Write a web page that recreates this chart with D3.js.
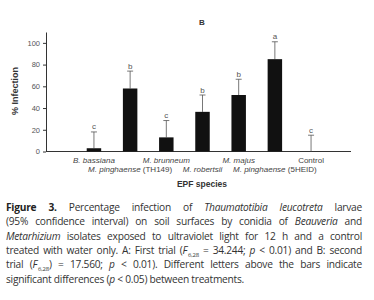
<!DOCTYPE html>
<html>
<head>
<meta charset="utf-8">
<script src="https://cdn.jsdelivr.net/npm/d3@7"></script>
<style>
  body { margin: 0; background: #fff; width: 374px; height: 300px; overflow: hidden; position: relative; }
  #chart { position: absolute; left: 0; top: 0; }
  #caption {
    position: absolute; left: 6px; top: 200px; width: 356px;
    font-family: "Open Sans", "Noto Sans", sans-serif; font-size: 10.2px;
    color: #333; letter-spacing: -0.25px;
  }
  #caption .line { height: 14.35px; line-height: 14.35px; white-space: nowrap; text-align: justify; text-align-last: justify; }
  #caption .line.last { text-align-last: left; }
  #caption b { color: #222; }
  #caption sub { font-size: 6px; line-height: 0; margin-left: 1px; }
</style>
</head>
<body>
<div id="chart"></div>
<div id="caption">
  <div class="line" style="white-space: normal"><b>Figure 3.</b> Percentage infection of <i>Thaumatotibia leucotreta</i> larvae</div>
  <div class="line" style="white-space: normal">(95% confidence interval) on soil surfaces by conidia of <i>Beauveria</i> and</div>
  <div class="line" style="white-space: normal"><i>Metarhizium</i> isolates exposed to ultraviolet light for 12 h and a control</div>
  <div class="line" style="white-space: normal">treated with water only. A: First trial (<i>F</i><sub>6,28</sub> = 34.244; <i>p</i> &lt; 0.01) and B: second</div>
  <div class="line" style="white-space: normal">trial (<i>F</i><sub>6,28</sub>) = 17.560; <i>p</i> &lt; 0.01). Different letters above the bars indicate</div>
  <div class="line last">significant differences (<i>p</i> &lt; 0.05) between treatments.</div>
</div>
<script>
// données
const categories = ["B. bassiana", "M. pinghaense (TH149)", "M. brunneum", "M. robertsii", "M. majus", "M. pinghaense (5HEID)", "Control"];
const labelGenus = ["B. bassiana", "M. pinghaense", "M. brunneum", "M. robertsii", "M. majus", "M. pinghaense", "Control"];
const labelStrain = ["", " (TH149)", "", "", "", " (5HEID)", ""];
const infection = [3, 58, 13, 36.5, 52, 85, 0];
const upperCI = [18, 74, 28.5, 52, 66.5, 101, 15];
const letters = ["c", "b", "c", "b", "b", "a", "c"];
const yTicks = [0, 20, 40, 60, 80, 100];

const svg = d3.select("#chart").append("svg")
    .attr("width", 374)
    .attr("height", 200);

const x = d3.scaleBand()
    .domain(categories)
    .range([65, 340])
    .padding(0.6);

const y = d3.scaleLinear()
    .domain([0, 110])
    .range([151.5, 32]);

const axisFont = "Liberation Sans, Arial, sans-serif";

// axe Y
const yAxis = svg.append("g")
    .attr("transform", "translate(46,0)")
    .call(d3.axisLeft(y).tickValues(yTicks).tickSize(3).tickSizeOuter(0));
yAxis.select(".domain").attr("stroke", "#333");
yAxis.selectAll(".tick line").attr("stroke", "#333");
yAxis.selectAll("text")
    .attr("fill", "#555")
    .style("font-family", axisFont)
    .style("font-size", "7.5px");

// axe X
svg.append("line")
    .attr("x1", 46).attr("x2", 351)
    .attr("y1", y(0)).attr("y2", y(0))
    .attr("stroke", "#333");

// barres d'erreur (vers le haut seulement)
const cx = d => x(d) + x.bandwidth() / 2;
svg.selectAll(".err")
    .data(categories)
    .join("line")
    .attr("x1", cx)
    .attr("x2", cx)
    .attr("y1", (d, i) => y(infection[i]))
    .attr("y2", (d, i) => y(upperCI[i]))
    .attr("stroke", "#555")
    .attr("stroke-width", 0.8);
svg.selectAll(".cap")
    .data(categories)
    .join("line")
    .attr("x1", d => cx(d) - 3)
    .attr("x2", d => cx(d) + 3)
    .attr("y1", (d, i) => y(upperCI[i]))
    .attr("y2", (d, i) => y(upperCI[i]))
    .attr("stroke", "#555")
    .attr("stroke-width", 0.8);

// barres
svg.selectAll(".bar")
    .data(categories)
    .join("rect")
    .attr("x", d => x(d))
    .attr("width", x.bandwidth())
    .attr("y", (d, i) => y(infection[i]))
    .attr("height", (d, i) => y(0) - y(infection[i]))
    .attr("fill", "#111");

// lettres
svg.selectAll(".letter")
    .data(categories)
    .join("text")
    .attr("x", cx)
    .attr("y", (d, i) => y(upperCI[i]) - 2.5)
    .attr("text-anchor", "middle")
    .attr("fill", "#555")
    .style("font-family", axisFont)
    .style("font-size", "8px")
    .text((d, i) => letters[i]);

// labels des catégories, sur deux rangées
const labels = svg.selectAll(".xlab")
    .data(categories)
    .join("text")
    .attr("x", cx)
    .attr("y", (d, i) => i % 2 === 0 ? 163 : 172)
    .attr("text-anchor", "middle")
    .attr("fill", "#444")
    .style("font-family", axisFont)
    .style("font-size", "8px");
labels.append("tspan")
    .style("font-style", (d, i) => labelGenus[i] === "Control" ? "normal" : "italic")
    .text((d, i) => labelGenus[i]);
labels.append("tspan")
    .text((d, i) => labelStrain[i]);

// titres
svg.append("text")
    .attr("x", 202).attr("y", 25)
    .attr("text-anchor", "middle")
    .attr("fill", "#333")
    .style("font-family", axisFont)
    .style("font-size", "8px")
    .style("font-weight", "bold")
    .text("B");

svg.append("text")
    .attr("x", 202).attr("y", 187)
    .attr("text-anchor", "middle")
    .attr("fill", "#333")
    .style("font-family", axisFont)
    .style("font-size", "8.5px")
    .style("font-weight", "bold")
    .text("EPF species");

svg.append("text")
    .attr("transform", "translate(18,91) rotate(-90)")
    .attr("text-anchor", "middle")
    .attr("fill", "#333")
    .style("font-family", axisFont)
    .style("font-size", "9px")
    .style("font-weight", "bold")
    .text("% Infection");
</script>
</body>
</html>
